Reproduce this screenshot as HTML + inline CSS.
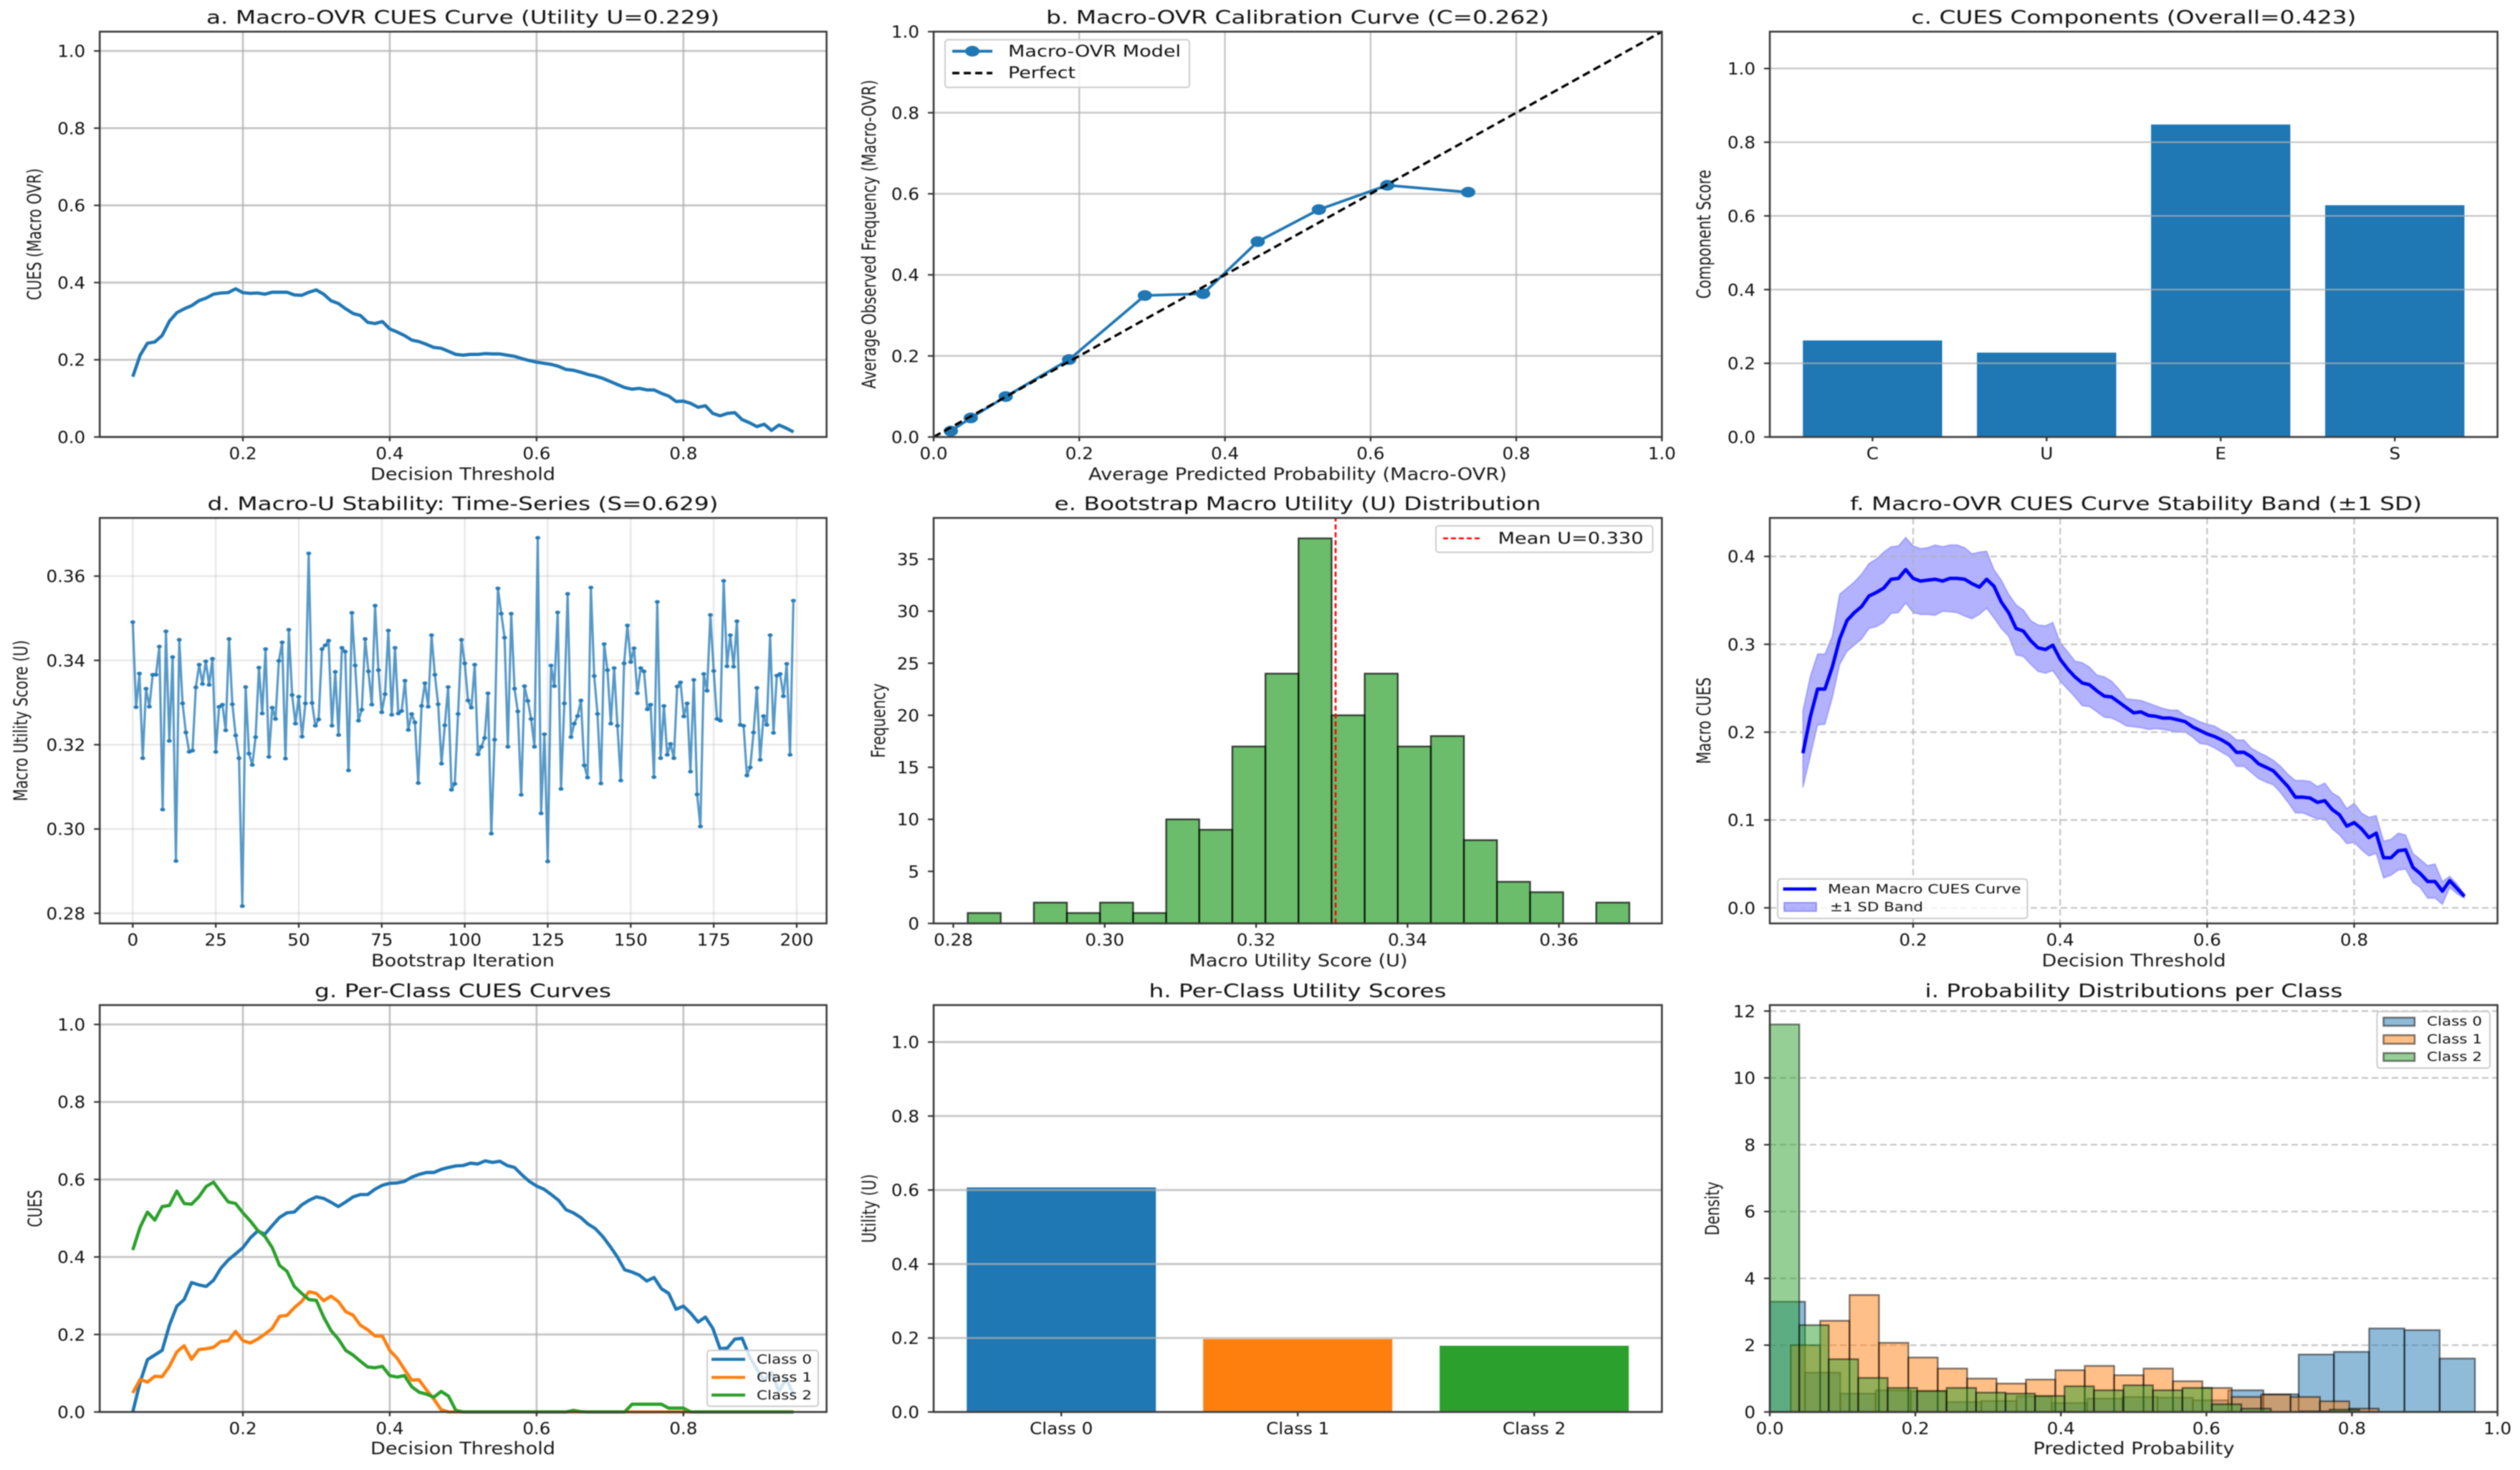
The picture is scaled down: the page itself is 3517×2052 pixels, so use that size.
<!DOCTYPE html>
<html lang="en">
<head>
<meta charset="utf-8">
<title>CUES evaluation dashboard</title>
<style>
html,body{margin:0;padding:0;background:#fff;}
svg{display:block;filter:blur(0.9px);}
text{font-family:"DejaVu Sans","Liberation Sans",sans-serif;fill:#111;}
.title{font-size:26px;text-anchor:middle;}
.xl{font-size:24px;text-anchor:middle;fill:#1a1a1a;}
.yl{font-size:22px;text-anchor:middle;fill:#1a1a1a;}
.lg{font-size:22px;}
.lgs{font-size:17.5px;}
.tick{font-size:23px;}
</style>
</head>
<body>
<svg xmlns="http://www.w3.org/2000/svg" width="3517" height="2052" viewBox="0 0 3517 2052">
<rect width="3517" height="2052" fill="#fff"/>

<g>
  <text class="title" x="646" y="33" textLength="716" lengthAdjust="spacingAndGlyphs">a. Macro-OVR CUES Curve (Utility U=0.229)</text>
  <g id="plot-a"></g>
  <text class="xl" x="646" y="670" textLength="258" lengthAdjust="spacingAndGlyphs">Decision Threshold</text>
  <text class="yl" transform="translate(57,327) rotate(-90) scale(1,1.2)" textLength="184" lengthAdjust="spacingAndGlyphs">CUES (Macro OVR)</text>
</g>

<g>
  <text class="title" x="1811" y="33" textLength="702" lengthAdjust="spacingAndGlyphs">b. Macro-OVR Calibration Curve (C=0.262)</text>
  <g id="plot-b"></g>
  <text class="xl" x="1811" y="670" textLength="584" lengthAdjust="spacingAndGlyphs">Average Predicted Probability (Macro-OVR)</text>
  <text class="yl" transform="translate(1222,327) rotate(-90) scale(1,1.2)" textLength="431" lengthAdjust="spacingAndGlyphs">Average Observed Frequency (Macro-OVR)</text>
  <g>
    <rect x="1319" y="55.5" width="341" height="66.5" rx="4" fill="#fff" fill-opacity="0.8" stroke="#ccc" stroke-width="2"/>
    <line x1="1329" x2="1385" y1="71.5" y2="71.5" stroke="#1f77b4" stroke-width="4"/>
    <ellipse cx="1357" cy="71.5" rx="10" ry="7.5" fill="#1f77b4"/>
    <text class="lg" x="1407" y="79" textLength="241" lengthAdjust="spacingAndGlyphs">Macro-OVR Model</text>
    <line x1="1329" x2="1385" y1="102" y2="102" stroke="#000" stroke-width="3.4" stroke-dasharray="10 6"/>
    <text class="lg" x="1407" y="109" textLength="94" lengthAdjust="spacingAndGlyphs">Perfect</text>
  </g>
</g>

<g>
  <text class="title" x="2978" y="33" textLength="621" lengthAdjust="spacingAndGlyphs">c. CUES Components (Overall=0.423)</text>
  <g id="plot-c"></g>
  <text class="yl" transform="translate(2387,327) rotate(-90) scale(1,1.2)" textLength="180" lengthAdjust="spacingAndGlyphs">Component Score</text>
</g>

<g>
  <text class="title" x="646" y="712" textLength="713" lengthAdjust="spacingAndGlyphs">d. Macro-U Stability: Time-Series (S=0.629)</text>
  <g id="plot-d"></g>
  <text class="xl" x="646" y="1349" textLength="256" lengthAdjust="spacingAndGlyphs">Bootstrap Iteration</text>
  <text class="yl" transform="translate(38,1006) rotate(-90) scale(1,1.2)" textLength="225" lengthAdjust="spacingAndGlyphs">Macro Utility Score (U)</text>
</g>

<g>
  <text class="title" x="1811" y="712" textLength="679" lengthAdjust="spacingAndGlyphs">e. Bootstrap Macro Utility (U) Distribution</text>
  <g id="plot-e"></g>
  <text class="xl" x="1812" y="1349" textLength="305" lengthAdjust="spacingAndGlyphs">Macro Utility Score (U)</text>
  <text class="yl" transform="translate(1235,1006) rotate(-90) scale(1,1.2)" textLength="104" lengthAdjust="spacingAndGlyphs">Frequency</text>
  <g>
    <rect x="2004" y="734" width="302.6" height="37" rx="4" fill="#fff" fill-opacity="0.8" stroke="#ccc" stroke-width="2"/>
    <line x1="2014" x2="2068" y1="751.5" y2="751.5" stroke="#f00" stroke-width="2.5" stroke-dasharray="7 4"/>
    <text class="lg" x="2090.6" y="759" textLength="203" lengthAdjust="spacingAndGlyphs">Mean U=0.330</text>
  </g>
</g>

<g>
  <text class="title" x="2981" y="712" textLength="798" lengthAdjust="spacingAndGlyphs">f. Macro-OVR CUES Curve Stability Band (±1 SD)</text>
  <g id="plot-f"></g>
  <text class="xl" x="2978" y="1349" textLength="257" lengthAdjust="spacingAndGlyphs">Decision Threshold</text>
  <text class="yl" transform="translate(2387,1006) rotate(-90) scale(1,1.2)" textLength="121" lengthAdjust="spacingAndGlyphs">Macro CUES</text>
  <g>
    <rect x="2481" y="1227" width="348.5" height="55" rx="4" fill="#fff" fill-opacity="0.8" stroke="#ccc" stroke-width="2"/>
    <line x1="2488.6" x2="2535" y1="1241" y2="1241" stroke="#00f" stroke-width="4.4"/>
    <text class="lgs" x="2551" y="1247" textLength="269.5" lengthAdjust="spacingAndGlyphs">Mean Macro CUES Curve</text>
    <rect x="2490" y="1260" width="45" height="12" fill="#00f" fill-opacity="0.3" stroke="#00f" stroke-opacity="0.3" stroke-width="2"/>
    <text class="lgs" x="2554" y="1272" textLength="130" lengthAdjust="spacingAndGlyphs">±1 SD Band</text>
  </g>
</g>

<g>
  <text class="title" x="646" y="1392" textLength="414" lengthAdjust="spacingAndGlyphs">g. Per-Class CUES Curves</text>
  <g id="plot-g"></g>
  <text class="xl" x="646" y="2030" textLength="258" lengthAdjust="spacingAndGlyphs">Decision Threshold</text>
  <text class="yl" transform="translate(58,1687) rotate(-90) scale(1,1.2)" textLength="52" lengthAdjust="spacingAndGlyphs">CUES</text>
  <g>
    <rect x="987" y="1885" width="155" height="78" rx="4" fill="#fff" fill-opacity="0.8" stroke="#ccc" stroke-width="2"/>
    <line x1="993" x2="1040" y1="1897.5" y2="1897.5" stroke="#1f77b4" stroke-width="4.2"/>
    <text class="lgs" x="1056" y="1903.5" textLength="77" lengthAdjust="spacingAndGlyphs">Class 0</text>
    <line x1="993" x2="1040" y1="1922.7" y2="1922.7" stroke="#ff7f0e" stroke-width="4.2"/>
    <text class="lgs" x="1056" y="1928.7" textLength="77" lengthAdjust="spacingAndGlyphs">Class 1</text>
    <line x1="993" x2="1040" y1="1947.4" y2="1947.4" stroke="#2ca02c" stroke-width="4.2"/>
    <text class="lgs" x="1056" y="1953.4" textLength="77" lengthAdjust="spacingAndGlyphs">Class 2</text>
  </g>
</g>

<g>
  <text class="title" x="1811" y="1392" textLength="415" lengthAdjust="spacingAndGlyphs">h. Per-Class Utility Scores</text>
  <g id="plot-h"></g>
  <text class="yl" transform="translate(1222,1687) rotate(-90) scale(1,1.2)" textLength="96" lengthAdjust="spacingAndGlyphs">Utility (U)</text>
</g>

<g>
  <text class="title" x="2978" y="1392" textLength="583" lengthAdjust="spacingAndGlyphs">i. Probability Distributions per Class</text>
  <g id="plot-i"></g>
  <text class="xl" x="2978" y="2030" textLength="281" lengthAdjust="spacingAndGlyphs">Predicted Probability</text>
  <text class="yl" transform="translate(2399,1687) rotate(-90) scale(1,1.2)" textLength="75" lengthAdjust="spacingAndGlyphs">Density</text>
  <g>
    <rect x="3317.5" y="1412" width="157.5" height="79" rx="4" fill="#fff" fill-opacity="0.8" stroke="#ccc" stroke-width="2"/>
    <rect x="3326.5" y="1420.5" width="43.5" height="11.5" fill="#1f77b4" fill-opacity="0.5" stroke="#000" stroke-opacity="0.5" stroke-width="2.5"/>
    <text class="lgs" x="3387" y="1431.5" textLength="77" lengthAdjust="spacingAndGlyphs">Class 0</text>
    <rect x="3326.5" y="1445" width="43.5" height="12" fill="#ff7f0e" fill-opacity="0.5" stroke="#000" stroke-opacity="0.5" stroke-width="2.5"/>
    <text class="lgs" x="3387" y="1456.6" textLength="77" lengthAdjust="spacingAndGlyphs">Class 1</text>
    <rect x="3326.5" y="1470" width="43.5" height="11" fill="#2ca02c" fill-opacity="0.5" stroke="#000" stroke-opacity="0.5" stroke-width="2.5"/>
    <text class="lgs" x="3387" y="1481" textLength="77" lengthAdjust="spacingAndGlyphs">Class 2</text>
  </g>
</g>
</svg>

<script>
// ---------- shared tick arrays ----------
const thresholdTicks = [0.2, 0.4, 0.6, 0.8];
const thresholdTickLabels = ['0.2', '0.4', '0.6', '0.8'];
const unitTicks = [0, 0.2, 0.4, 0.6, 0.8, 1];
const unitTickLabels = ['0.0', '0.2', '0.4', '0.6', '0.8', '1.0'];

// ---------- thresholds shared by a, f, g ----------
const thresholds = [
0.05,0.06,0.07,0.08,0.09,0.10,0.11,0.12,0.13,0.14,
0.15,0.16,0.17,0.18,0.19,0.20,0.21,0.22,0.23,0.24,
0.25,0.26,0.27,0.28,0.29,0.30,0.31,0.32,0.33,0.34,
0.35,0.36,0.37,0.38,0.39,0.40,0.41,0.42,0.43,0.44,
0.45,0.46,0.47,0.48,0.49,0.50,0.51,0.52,0.53,0.54,
0.55,0.56,0.57,0.58,0.59,0.60,0.61,0.62,0.63,0.64,
0.65,0.66,0.67,0.68,0.69,0.70,0.71,0.72,0.73,0.74,
0.75,0.76,0.77,0.78,0.79,0.80,0.81,0.82,0.83,0.84,
0.85,0.86,0.87,0.88,0.89,0.90,0.91,0.92,0.93,0.94,
0.95];

// ---------- panel a ----------
const macroCues = [
.156,.212,.243,.246,.263,.300,.322,.332,.340,.353,
.360,.370,.373,.374,.384,.374,.372,.373,.370,.375,
.375,.375,.368,.367,.375,.381,.370,.353,.346,.332,
.320,.315,.297,.294,.299,.280,.272,.263,.251,.247,
.240,.232,.230,.222,.214,.212,.214,.214,.216,.215,
.215,.212,.209,.203,.198,.194,.191,.188,.183,.175,
.173,.168,.162,.158,.152,.144,.136,.128,.124,.126,
.122,.122,.113,.106,.092,.093,.087,.077,.081,.061,
.055,.061,.063,.045,.037,.027,.033,.017,.031,.023,
.013];

// ---------- panel b ----------
const calibPredicted = [0.0237,0.051,0.099,0.186,0.290,0.370,0.445,0.529,0.623,0.734];
const calibObserved = [0.0146,0.047,0.0997,0.191,0.349,0.3535,0.482,0.561,0.621,0.604];
const perfectLine = [0, 1];

// ---------- panel c ----------
const componentNames = ['C', 'U', 'E', 'S'];
const componentScores = [0.262, 0.229, 0.848, 0.629];

// ---------- panel d ----------
const bootstrapU = [
.3491,.3289,.3369,.3168,.3333,.3290,.3366,.3366,.3433,.3046,
.3469,.3209,.3408,.2924,.3449,.3298,.3229,.3183,.3186,.3336,
.3390,.3344,.3398,.3342,.3404,.3183,.3290,.3295,.3234,.3451,
.3296,.3222,.3168,.2817,.3337,.3179,.3152,.3218,.3383,.3274,
.3427,.3171,.3288,.3261,.3399,.3443,.3167,.3473,.3318,.3250,
.3314,.3219,.3298,.3654,.3299,.3245,.3260,.3427,.3436,.3447,
.3245,.3373,.3223,.3430,.3421,.3139,.3513,.3388,.3257,.3283,
.3451,.3374,.3295,.3530,.3377,.3277,.3320,.3471,.3271,.3430,
.3274,.3280,.3352,.3235,.3273,.3253,.3109,.3292,.3346,.3290,
.3460,.3366,.3296,.3155,.3246,.3337,.3093,.3107,.3273,.3449,
.3393,.3305,.3288,.3390,.3177,.3195,.3216,.3322,.2989,.3212,
.3571,.3511,.3454,.3195,.3511,.3333,.3279,.3081,.3339,.3304,
.3261,.3195,.3691,.3037,.3225,.2923,.3388,.3339,.3514,.3095,
.3298,.3558,.3218,.3250,.3268,.3305,.3151,.3122,.3573,.3363,
.3273,.3108,.3439,.3377,.3250,.3382,.3245,.3115,.3393,.3483,
.3396,.3429,.3322,.3382,.3374,.3284,.3295,.3123,.3539,.3168,
.3292,.3176,.3202,.3168,.3338,.3348,.3267,.3298,.3136,.3354,
.3082,.3006,.3368,.3328,.3508,.3375,.3261,.3257,.3589,.3386,
.3460,.3385,.3493,.3247,.3245,.3127,.3146,.3229,.3335,.3164,
.3268,.3247,.3460,.3228,.3364,.3368,.3315,.3392,.3176,.3542];
const iterationTicks = [0, 25, 50, 75, 100, 125, 150, 175, 200];
const iterationTickLabels = ['0', '25', '50', '75', '100', '125', '150', '175', '200'];
const utilityTicks = [0.28, 0.30, 0.32, 0.34, 0.36];
const utilityTickLabels = ['0.28', '0.30', '0.32', '0.34', '0.36'];

// ---------- panel e ----------
const histCounts = [1,0,2,1,2,1,10,9,17,24,37,20,24,17,18,8,4,3,0,2];
const histStart = 0.2819;
const histBinWidth = 0.00437;
const histMean = 0.3305;
const freqTicks = [0, 5, 10, 15, 20, 25, 30, 35];
const freqTickLabels = ['0', '5', '10', '15', '20', '25', '30', '35'];

// ---------- panel f ----------
const bandMean = [
.176,.217,.249,.249,.274,.306,.327,.336,.343,.355,
.359,.364,.374,.375,.385,.375,.372,.373,.374,.372,
.375,.375,.374,.369,.365,.374,.366,.348,.336,.318,
.315,.304,.296,.294,.299,.283,.272,.263,.256,.254,
.247,.241,.240,.234,.228,.222,.223,.219,.218,.216,
.216,.214,.212,.206,.202,.198,.195,.191,.186,.177,
.177,.172,.164,.160,.156,.147,.138,.126,.126,.125,
.120,.122,.112,.106,.093,.097,.090,.080,.085,.057,
.057,.065,.066,.046,.039,.030,.030,.019,.031,.022,
.013];
const bandUpper = [
.2245,.263,.289,.289,.309,.357,.364,.371,.380,.392,
.397,.405,.411,.412,.4215,.412,.409,.410,.413,.411,
.413,.413,.410,.403,.405,.406,.385,.373,.357,.345,
.339,.327,.322,.321,.325,.302,.292,.281,.279,.274,
.265,.263,.258,.249,.238,.237,.236,.233,.230,.227,
.225,.225,.219,.216,.212,.209,.207,.202,.198,.191,
.191,.182,.177,.173,.168,.161,.152,.145,.145,.144,
.138,.142,.131,.126,.113,.119,.108,.103,.105,.076,
.078,.085,.083,.062,.055,.048,.050,.030,.036,.027,
.016];
const bandLower = [
.137,.172,.208,.209,.239,.277,.292,.299,.306,.318,
.320,.325,.335,.336,.347,.336,.334,.334,.333,.3375,
.337,.336,.332,.329,.334,.341,.330,.318,.309,.288,
.286,.277,.269,.267,.270,.258,.249,.240,.230,.229,
.223,.217,.216,.212,.207,.206,.205,.203,.204,.203,
.2015,.200,.200,.1945,.187,.186,.182,.177,.172,.161,
.161,.154,.147,.143,.140,.131,.120,.108,.108,.1045,
.101,.101,.090,.083,.073,.0745,.066,.059,.062,.034,
.037,.043,.044,.029,.023,.011,.011,.004,.023,.016,
.011];
const bandTicks = [0, 0.1, 0.2, 0.3, 0.4];
const bandTickLabels = ['0.0', '0.1', '0.2', '0.3', '0.4'];

// ---------- panel g ----------
const class0Cues = [
0,.077,.135,.147,.159,.224,.273,.29,.334,.328,
.324,.34,.371,.392,.408,.424,.449,.467,.459,.481,
.502,.514,.516,.534,.546,.555,.551,.541,.530,.542,
.555,.561,.561,.575,.585,.590,.591,.595,.606,.613,
.618,.618,.626,.631,.635,.636,.642,.640,.648,.644,
.647,.636,.631,.612,.595,.583,.575,.561,.546,.522,
.514,.502,.485,.473,.453,.428,.400,.367,.361,.353,
.338,.347,.318,.306,.265,.273,.255,.232,.245,.216,
.163,.165,.188,.190,.143,.110,.082,.102,.053,.086,
.045];
const class1Cues = [
.049,.084,.077,.092,.091,.118,.155,.171,.136,.161,
.163,.167,.182,.184,.208,.184,.178,.188,.201,.216,
.247,.249,.269,.285,.31,.306,.287,.299,.285,.259,
.250,.224,.212,.196,.196,.159,.139,.110,.082,.083,
.057,.033,.006,0,0,0,0,0,0,0,
0,0,0,0,0,0,0,0,0,0,
0,0,0,0,0,0,0,0,0,0,
0,0,0,0,0,0,0,0,0,0,
0,0,0,0,0,0,0,0,0,0,
0];
const class2Cues = [
.418,.477,.516,.495,.530,.533,.570,.538,.536,.555,
.582,.593,.567,.542,.538,.514,.493,.469,.453,.424,
.378,.363,.324,.306,.290,.288,.245,.210,.188,.159,
.147,.131,.116,.114,.118,.094,.090,.094,.065,.051,
.046,.038,.053,.041,.004,0,0,0,0,0,
0,0,0,0,0,0,0,0,0,0,
.004,.001,0,0,0,0,0,0,.02,.02,
.02,.02,.02,.01,.01,.01,0,0,0,0,
0,0,0,0,0,0,0,0,0,0,
0];

// ---------- panel h ----------
const classNames = ['Class 0', 'Class 1', 'Class 2'];
const classUtility = [0.607, 0.197, 0.179];

// ---------- panel i ----------
const class0Density = [3.3,1.18,.55,.65,.62,.3,.33,.47,.27,.4,.45,.43,.35,.65,.53,1.72,1.8,2.5,2.45,1.6];
const class1Density = [2.0,2.73,3.5,2.07,1.63,1.3,1.0,.85,.97,1.25,1.38,1.1,1.3,.92,.72,.45,.52,.45,.32,.1];
const class2Density = [11.6,2.6,1.58,1.02,.72,.63,.72,.58,.55,.48,.77,.65,.8,.65,.72,.23,.1,0,.02,.07];
const class0Bins = [0, 0.04845];
const class1Bins = [0.0288, 0.0404];
const class2Bins = [0, 0.0405];
const densityTicks = [0, 2, 4, 6, 8, 10, 12];
const densityTickLabels = ['0', '2', '4', '6', '8', '10', '12'];

// ---------- drawing helpers ----------
const NS = 'http://www.w3.org/2000/svg';
function mk(tag, attrs, parent) {
  const el = document.createElementNS(NS, tag);
  for (const k in attrs) el.setAttribute(k, attrs[k]);
  parent.appendChild(el);
  return el;
}
function makeAxes(id, box, xlim, ylim) {
  const g = document.getElementById(id);
  const sx = v => box.l + (v - xlim[0]) / (xlim[1] - xlim[0]) * (box.r - box.l);
  const sy = v => box.b - (v - ylim[0]) / (ylim[1] - ylim[0]) * (box.b - box.t);
  return { g, box, sx, sy };
}
function gridV(ax, ticks, style) {
  ticks.forEach(t => {
    const el = mk('line', Object.assign({ x1: ax.sx(t), x2: ax.sx(t), y1: ax.box.t, y2: ax.box.b }, style), ax.g);
    
    
  });
}
function gridH(ax, ticks, style) {
  ticks.forEach(t => {
    const el = mk('line', Object.assign({ x1: ax.box.l, x2: ax.box.r, y1: ax.sy(t), y2: ax.sy(t) }, style), ax.g);
    
    
  });
}
function frameAndTicks(ax, xt, xl, yt, yl) {
  const fr = mk('rect', { x: ax.box.l, y: ax.box.t, width: ax.box.r - ax.box.l, height: ax.box.b - ax.box.t, fill: 'none', stroke: '#3c3c3c', 'stroke-width': 2.6 }, ax.g);
  
  
  xt.forEach((t, i) => {
    const tk = mk('line', { x1: ax.sx(t), x2: ax.sx(t), y1: ax.box.b, y2: ax.box.b + 6, stroke: '#333', 'stroke-width': 2.4 }, ax.g);
    
    
    const lb = mk('text', { class: 'tick', 'text-anchor': 'middle', transform: 'translate(' + ax.sx(t) + ',' + (ax.box.b + 31) + ') scale(1.07,1)' }, ax.g);
    lb.textContent = xl[i];
    
    
  });
  yt.forEach((t, i) => {
    const tk = mk('line', { x1: ax.box.l - 8, x2: ax.box.l, y1: ax.sy(t), y2: ax.sy(t), stroke: '#333', 'stroke-width': 2.2 }, ax.g);
    
    
    const lb = mk('text', { class: 'tick', 'text-anchor': 'end', transform: 'translate(' + (ax.box.l - 20) + ',' + (ax.sy(t) + 8.5) + ') scale(1.07,1)' }, ax.g);
    lb.textContent = yl[i];
    
    
  });
}
function linePath(ax, xs, ys, style) {
  const d = xs.map((x, i) => (i ? 'L' : 'M') + ax.sx(x).toFixed(1) + ' ' + ax.sy(ys[i]).toFixed(1)).join('');
  const el = mk('path', Object.assign({ d, fill: 'none', 'stroke-linejoin': 'round' }, style), ax.g);
  return el;
}
function histBars(ax, start, width, heights, style) {
  heights.forEach((h, i) => {
    if (h <= 0) return;
    const x0 = ax.sx(start + i * width), x1 = ax.sx(start + (i + 1) * width);
    const el = mk('rect', Object.assign({ x: x0, y: ax.sy(h), width: x1 - x0, height: ax.sy(0) - ax.sy(h) }, style), ax.g);
    
    
  });
}
function catBars(ax, values, colors) {
  values.forEach((v, i) => {
    const x0 = ax.sx(i - 0.4), x1 = ax.sx(i + 0.4);
    const el = mk('rect', { x: x0, y: ax.sy(v), width: x1 - x0, height: ax.sy(0) - ax.sy(v), fill: colors[i % colors.length] }, ax.g);
    
    
  });
}

const solidGrid = { stroke: '#b0b0b0', 'stroke-opacity': 0.72, 'stroke-width': 2.8 };
const col1 = { l: 139.2, r: 1153.6 }, col2 = { l: 1303, r: 2319.4 }, col3 = { l: 2470, r: 3485.6 };
const row1 = { t: 44.2, b: 610 }, row2 = { t: 723, b: 1289 }, row3 = { t: 1403, b: 1971 };
const box = (c, r) => ({ l: c.l, r: c.r, t: r.t, b: r.b });
const thresholdLim = [0.005, 0.995];

// panel a
(function () {
  const ax = makeAxes('plot-a', box(col1, row1), thresholdLim, [0, 1.05]);
  gridV(ax, thresholdTicks, solidGrid);
  gridH(ax, unitTicks, solidGrid);
  const l = linePath(ax, thresholds, macroCues, { stroke: '#1f77b4', 'stroke-width': 4.6 });
  
  
  frameAndTicks(ax, thresholdTicks, thresholdTickLabels, unitTicks, unitTickLabels);
})();

// panel b
(function () {
  const ax = makeAxes('plot-b', box(col2, row1), [0, 1], [0, 1]);
  const g = { stroke: '#b0b0b0', 'stroke-opacity': 0.72, 'stroke-width': 2.4 };
  gridV(ax, unitTicks, g);
  gridH(ax, unitTicks, g);
  const l = linePath(ax, calibPredicted, calibObserved, { stroke: '#1f77b4', 'stroke-width': 3.8 });
  
  
  calibPredicted.forEach((p, i) => {
    const m = mk('ellipse', { cx: ax.sx(p), cy: ax.sy(calibObserved[i]), rx: 10, ry: 7.5, fill: '#1f77b4' }, ax.g);
    
    
  });
  const pf = linePath(ax, perfectLine, perfectLine, { stroke: '#000', 'stroke-width': 3.4, 'stroke-dasharray': '11 6' });
  
  
  frameAndTicks(ax, unitTicks, unitTickLabels, unitTicks, unitTickLabels);
})();

// panel c
(function () {
  const ax = makeAxes('plot-c', box(col3, row1), [-0.59, 3.59], [0, 1.1]);
  catBars(ax, componentScores, ['#1f77b4']);
  gridH(ax, unitTicks, { stroke: '#b0b0b0', 'stroke-opacity': 0.72, 'stroke-width': 2.2 });
  frameAndTicks(ax, componentNames.map((n, i) => i), componentNames, unitTicks, unitTickLabels);
})();

// panel d
(function () {
  const ax = makeAxes('plot-d', box(col1, row2), [-9.95, 209], [0.2776, 0.3738]);
  const g = { stroke: '#b0b0b0', 'stroke-opacity': 0.28, 'stroke-width': 2.6 };
  gridV(ax, iterationTicks, g);
  gridH(ax, utilityTicks, g);
  const idx = bootstrapU.map((v, i) => i);
  const l = linePath(ax, idx, bootstrapU, { stroke: '#1f77b4', 'stroke-opacity': 0.75, 'stroke-width': 3.2 });
  
  
  bootstrapU.forEach((v, i) => {
    const m = mk('ellipse', { cx: ax.sx(i), cy: ax.sy(v), rx: 3.6, ry: 2.6, fill: '#1f77b4', 'fill-opacity': 0.9 }, ax.g);
    
    
  });
  frameAndTicks(ax, iterationTicks, iterationTickLabels, utilityTicks, utilityTickLabels);
})();

// panel e
(function () {
  const ax = makeAxes('plot-e', box(col2, row2), [0.2774, 0.3736], [0, 38.96]);
  histBars(ax, histStart, histBinWidth, histCounts, { fill: '#2ca02c', 'fill-opacity': 0.7, stroke: '#000', 'stroke-opacity': 0.7, 'stroke-width': 2.4 });
  const l = linePath(ax, [histMean, histMean], [0, 38.96], { stroke: '#f00', 'stroke-width': 2.6, 'stroke-dasharray': '7 4' });
  
  
  frameAndTicks(ax, utilityTicks, utilityTickLabels, freqTicks, freqTickLabels);
})();

// panel f
(function () {
  const ax = makeAxes('plot-f', box(col3, row2), thresholdLim, [-0.0177, 0.4438]);
  const upper = thresholds.map((t, i) => ax.sx(t).toFixed(1) + ',' + ax.sy(bandUpper[i]).toFixed(1));
  const lower = thresholds.map((t, i) => ax.sx(t).toFixed(1) + ',' + ax.sy(bandLower[i]).toFixed(1)).reverse();
  const b = mk('polygon', { points: upper.concat(lower).join(' '), fill: '#00f', 'fill-opacity': 0.3, stroke: '#00f', 'stroke-opacity': 0.22, 'stroke-width': 2 }, ax.g);
  
  
  const g = { stroke: '#b0b0b0', 'stroke-opacity': 0.75, 'stroke-width': 2.2, 'stroke-dasharray': '9 5' };
  gridV(ax, thresholdTicks, g);
  gridH(ax, bandTicks, g);
  const l = linePath(ax, thresholds, bandMean, { stroke: '#00f', 'stroke-width': 4.8 });
  
  
  frameAndTicks(ax, thresholdTicks, thresholdTickLabels, bandTicks, bandTickLabels);
})();

// panel g
(function () {
  const ax = makeAxes('plot-g', box(col1, row3), thresholdLim, [0, 1.05]);
  gridV(ax, thresholdTicks, solidGrid);
  gridH(ax, unitTicks, solidGrid);
  const l0 = linePath(ax, thresholds, class0Cues, { stroke: '#1f77b4', 'stroke-width': 4.6 });
  
  
  const l1 = linePath(ax, thresholds, class1Cues, { stroke: '#ff7f0e', 'stroke-width': 4.6 });
  
  
  const l2 = linePath(ax, thresholds, class2Cues, { stroke: '#2ca02c', 'stroke-width': 4.6 });
  
  
  frameAndTicks(ax, thresholdTicks, thresholdTickLabels, unitTicks, unitTickLabels);
})();

// panel h
(function () {
  const ax = makeAxes('plot-h', box(col2, row3), [-0.54, 2.54], [0, 1.1]);
  catBars(ax, classUtility, ['#1f77b4', '#ff7f0e', '#2ca02c']);
  gridH(ax, unitTicks, solidGrid);
  frameAndTicks(ax, classNames.map((n, i) => i), classNames, unitTicks, unitTickLabels);
})();

// panel i
(function () {
  const ax = makeAxes('plot-i', box(col3, row3), [0, 1], [0, 12.18]);
  gridH(ax, densityTicks, { stroke: '#b0b0b0', 'stroke-opacity': 0.75, 'stroke-width': 2.2, 'stroke-dasharray': '9 5' });
  const edge = { stroke: '#000', 'stroke-opacity': 0.5, 'stroke-width': 2.4, 'fill-opacity': 0.5 };
  histBars(ax, class0Bins[0], class0Bins[1], class0Density, Object.assign({ fill: '#1f77b4' }, edge));
  histBars(ax, class1Bins[0], class1Bins[1], class1Density, Object.assign({ fill: '#ff7f0e' }, edge));
  histBars(ax, class2Bins[0], class2Bins[1], class2Density, Object.assign({ fill: '#2ca02c' }, edge));
  frameAndTicks(ax, unitTicks, unitTickLabels, densityTicks, densityTickLabels);
})();
</script>
</body>
</html>
